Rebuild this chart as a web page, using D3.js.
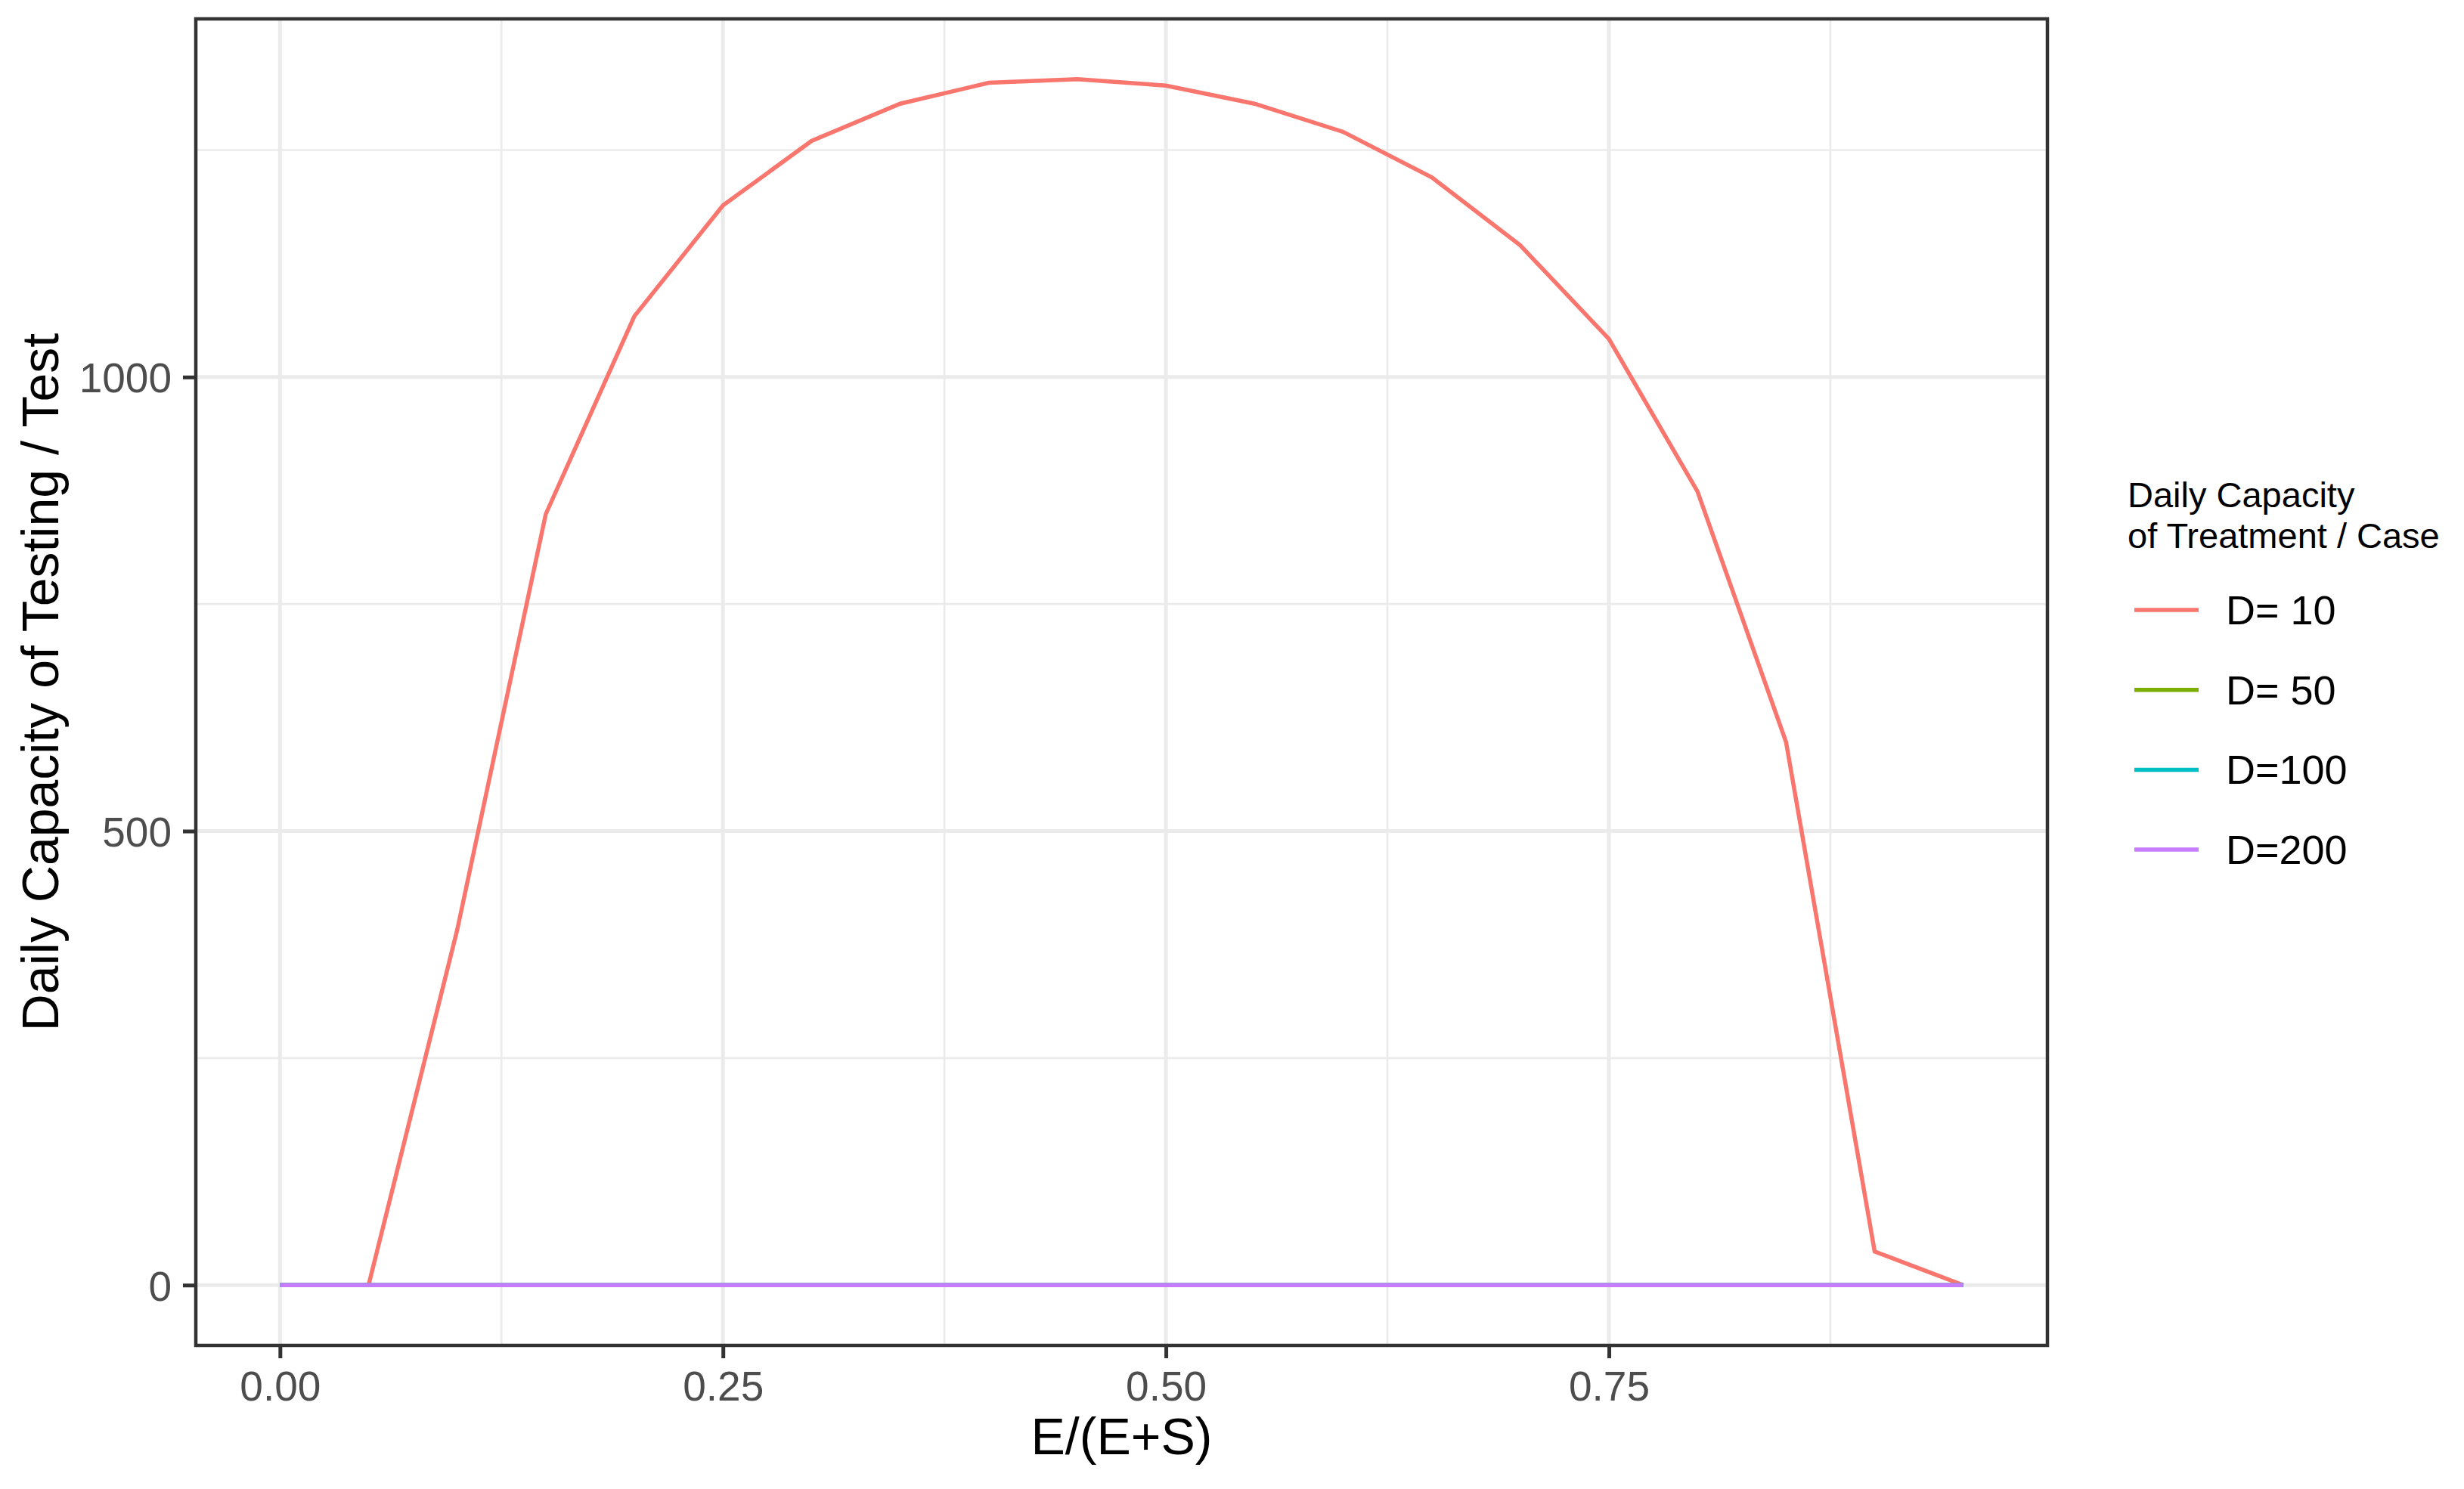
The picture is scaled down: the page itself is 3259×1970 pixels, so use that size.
<!DOCTYPE html>
<html>
<head>
<meta charset="utf-8">
<script src="https://cdn.jsdelivr.net/npm/d3@7"></script>
<style>
html, body { margin: 0; padding: 0; background: #ffffff; }
svg { display: block; }
text { font-family: "Liberation Sans", Arial, sans-serif; }
</style>
</head>
<body>
<svg id="chart" width="3259" height="1970"></svg>
<script>
// ---- data ----
const xValues = [0, 0.05, 0.10, 0.15, 0.20, 0.25, 0.30, 0.35, 0.40, 0.45, 0.50, 0.55, 0.60, 0.65, 0.70, 0.75, 0.80, 0.85, 0.90, 0.95];
const d10  = [0, 0, 391, 849, 1067, 1189, 1260, 1301, 1324, 1328, 1321, 1301, 1270, 1220, 1145, 1042, 874, 598, 37, 0];
const d50  = [0, 0, 0, 0, 0, 0, 0, 0, 0, 0, 0, 0, 0, 0, 0, 0, 0, 0, 0, 0];
const d100 = [0, 0, 0, 0, 0, 0, 0, 0, 0, 0, 0, 0, 0, 0, 0, 0, 0, 0, 0, 0];
const d200 = [0, 0, 0, 0, 0, 0, 0, 0, 0, 0, 0, 0, 0, 0, 0, 0, 0, 0, 0, 0];
const seriesLabels = ["D= 10", "D= 50", "D=100", "D=200"];
const seriesColors = ["#F8766D", "#7CAE00", "#00BFC4", "#C77CFF"];
const xTicks = [0, 0.25, 0.5, 0.75];
const xTickLabels = ["0.00", "0.25", "0.50", "0.75"];
const xMinor = [0.125, 0.375, 0.625, 0.875];
const yTicks = [0, 500, 1000];
const yTickLabels = ["0", "500", "1000"];
const yMinor = [250, 750, 1250];
const xTitle = "E/(E+S)";
const yTitle = "Daily Capacity of Testing / Test";
const legendTitle = ["Daily Capacity", "of Treatment / Case"];

const seriesValues = [d10, d50, d100, d200];

// ---- layout ----
const panel = { left: 259, right: 2708, top: 25, bottom: 1780 };
const svg = d3.select("#chart");

const xMin = d3.min(xValues), xMax = d3.max(xValues);
const xPad = (xMax - xMin) * 0.05;
const allY = seriesValues.flat();
const yMin = d3.min(allY), yMax = d3.max(allY);
const yPad = (yMax - yMin) * 0.05;

const x = d3.scaleLinear().domain([xMin - xPad, xMax + xPad]).range([panel.left, panel.right]);
const y = d3.scaleLinear().domain([yMin - yPad, yMax + yPad]).range([panel.bottom, panel.top]);

const g = svg.append("g");

// panel background
g.append("rect")
  .attr("x", panel.left).attr("y", panel.top)
  .attr("width", panel.right - panel.left).attr("height", panel.bottom - panel.top)
  .attr("fill", "#ffffff");

// minor gridlines
g.selectAll(".xminor").data(xMinor).enter().append("line")
  .attr("x1", d => x(d)).attr("x2", d => x(d))
  .attr("y1", panel.top).attr("y2", panel.bottom)
  .attr("stroke", "#EBEBEB").attr("stroke-width", 2.7);
g.selectAll(".yminor").data(yMinor).enter().append("line")
  .attr("y1", d => y(d)).attr("y2", d => y(d))
  .attr("x1", panel.left).attr("x2", panel.right)
  .attr("stroke", "#EBEBEB").attr("stroke-width", 2.7);
// major gridlines
g.selectAll(".xmajor").data(xTicks).enter().append("line")
  .attr("x1", d => x(d)).attr("x2", d => x(d))
  .attr("y1", panel.top).attr("y2", panel.bottom)
  .attr("stroke", "#EBEBEB").attr("stroke-width", 5);
g.selectAll(".ymajor").data(yTicks).enter().append("line")
  .attr("y1", d => y(d)).attr("y2", d => y(d))
  .attr("x1", panel.left).attr("x2", panel.right)
  .attr("stroke", "#EBEBEB").attr("stroke-width", 5);

// lines
const line = d3.line().x(d => x(d[0])).y(d => y(d[1]));
seriesValues.forEach((vals, i) => {
  g.append("path")
    .datum(xValues.map((xv, j) => [xv, vals[j]]))
    .attr("d", line)
    .attr("fill", "none")
    .attr("stroke", seriesColors[i])
    .attr("stroke-width", 5.5)
    .attr("stroke-linejoin", "miter")
    .attr("stroke-linecap", "butt");
});

// panel border
g.append("rect")
  .attr("x", panel.left).attr("y", panel.top)
  .attr("width", panel.right - panel.left).attr("height", panel.bottom - panel.top)
  .attr("fill", "none").attr("stroke", "#333333").attr("stroke-width", 4.5);

// axes
const xAxis = d3.axisBottom(x).tickValues(xTicks)
  .tickFormat((d, i) => xTickLabels[i]).tickSize(17).tickPadding(14);
const xAxisG = svg.append("g").attr("transform", `translate(0,${panel.bottom})`).call(xAxis);
xAxisG.select(".domain").remove();
xAxisG.selectAll(".tick line").attr("stroke", "#333333").attr("stroke-width", 5);
xAxisG.selectAll(".tick text")
  .attr("fill", "#4D4D4D").attr("font-size", 55)
  .attr("font-family", "Liberation Sans, Arial, sans-serif")
  .attr("dy", null).attr("y", 73);

const yAxis = d3.axisLeft(y).tickValues(yTicks)
  .tickFormat((d, i) => yTickLabels[i]).tickSize(17).tickPadding(14);
const yAxisG = svg.append("g").attr("transform", `translate(${panel.left},0)`).call(yAxis);
yAxisG.select(".domain").remove();
yAxisG.selectAll(".tick line").attr("stroke", "#333333").attr("stroke-width", 5);
yAxisG.selectAll(".tick text")
  .attr("fill", "#4D4D4D").attr("font-size", 55)
  .attr("font-family", "Liberation Sans, Arial, sans-serif")
  .attr("dy", "0.36em").attr("x", -32);

// axis titles
svg.append("text")
  .attr("x", (panel.left + panel.right) / 2).attr("y", 1924)
  .attr("text-anchor", "middle").attr("font-size", 68).attr("fill", "#000000")
  .text(xTitle);
svg.append("text")
  .attr("transform", `translate(77,${(panel.top + panel.bottom) / 2}) rotate(-90)`)
  .attr("text-anchor", "middle").attr("font-size", 68).attr("fill", "#000000")
  .text(yTitle);

// legend
const legend = svg.append("g");
legend.selectAll(".ltitle").data(legendTitle).enter().append("text")
  .attr("x", 2814).attr("y", (d, i) => 671 + i * 54)
  .attr("font-size", 47).attr("fill", "#000000")
  .text(d => d);
const keyY = i => 807 + i * 105.7;
seriesLabels.forEach((lab, i) => {
  legend.append("line")
    .attr("x1", 2823).attr("x2", 2908)
    .attr("y1", keyY(i)).attr("y2", keyY(i))
    .attr("stroke", seriesColors[i]).attr("stroke-width", 5.5);
  legend.append("text")
    .attr("x", 2944).attr("y", keyY(i) + 19)
    .attr("font-size", 54).attr("fill", "#000000")
    .style("white-space", "pre")
    .text(lab);
});
</script>
</body>
</html>
